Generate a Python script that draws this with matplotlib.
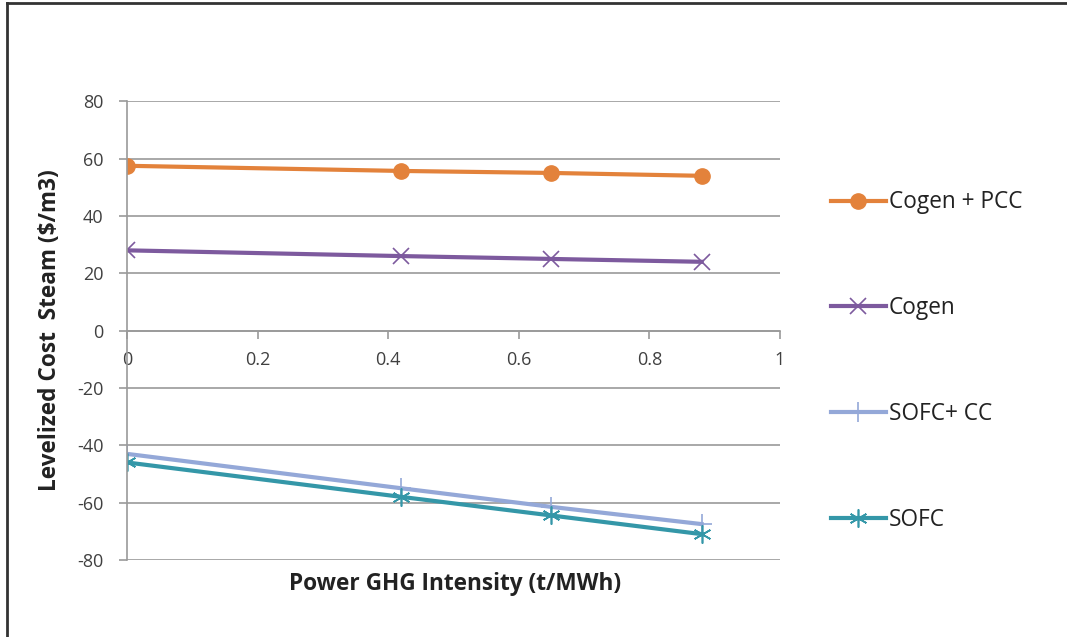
import matplotlib
matplotlib.use('Agg')
import matplotlib.pyplot as plt
from matplotlib.lines import Line2D

plt.rcParams['font.family'] = ['Open Sans', 'DejaVu Sans']
plt.rcParams['axes.unicode_minus'] = False

x = [0, 0.42, 0.65, 0.88]
cogen_pcc = [57.5, 55.7, 55.0, 54.0]
cogen = [28.0, 26.0, 25.0, 24.0]
sofc_cc = [-43.0, -55.0, -61.5, -67.5]
sofc = [-46.0, -58.0, -64.5, -71.0]

labels = ['Cogen + PCC', 'Cogen', 'SOFC+ CC', 'SOFC']
x_ticks = [0, 0.2, 0.4, 0.6, 0.8, 1]
y_ticks = [-80, -60, -40, -20, 0, 20, 40, 60, 80]

grey = '#9a9a9a'
txt = '#404040'

fig = plt.figure(figsize=(10.67, 6.37), dpi=100)
ax = fig.add_axes([0.119, 0.121, 0.612, 0.720])

ax.plot(x, cogen_pcc, color='#E3823B', lw=3, marker='o', ms=11, label=labels[0])
ax.plot(x, cogen, color='#7D5A9E', lw=3, marker='x', ms=12, mew=1.2, label=labels[1])
ax.plot(x, sofc_cc, color='#94A8D8', lw=3, marker='+', ms=14, mew=1.2, label=labels[2])
ax.plot(x, sofc, color='#3497A8', lw=3, marker=(6, 2, 0), ms=13, mew=1.2, label=labels[3])

ax.set_xlim(0, 1)
ax.set_ylim(-80, 80)
ax.set_xticks(x_ticks)
ax.set_xticklabels(['0', '0.2', '0.4', '0.6', '0.8', '1'])
ax.set_yticks(y_ticks)

ax.grid(axis='y', color=grey, lw=1.2)
ax.set_axisbelow(True)
for s in ['top', 'right']:
    ax.spines[s].set_visible(False)
ax.spines['bottom'].set_position(('data', 0))
ax.spines['bottom'].set_color(grey)
ax.spines['left'].set_color(grey)
ax.spines['bottom'].set_linewidth(1.2)
ax.spines['left'].set_linewidth(1.2)
ax.tick_params(axis='both', colors=grey, labelcolor=txt, labelsize=13, length=6, width=1.2)
ax.tick_params(axis='x', pad=9)
ax.tick_params(axis='y', pad=11)

ax.set_xlabel('Power GHG Intensity (t/MWh)', fontsize=16.3, fontweight='bold', color='#222222')
ax.set_ylabel('Levelized Cost  Steam ($/m3)', fontsize=16.3, fontweight='bold', color='#222222')
ax.xaxis.set_label_coords(0.502, -0.026)
ax.yaxis.set_label_coords(-0.100, 0.5)

fig.legend(loc='upper left', bbox_to_anchor=(0.779, 0.701), frameon=False,
           fontsize=16.3, labelspacing=3.62, handlelength=2.4, handletextpad=0.15,
           borderaxespad=0, borderpad=0, labelcolor='#222222')

# outer frame (left and top edges only, as in the screenshot)
fig.add_artist(Line2D([0.0066, 0.0066], [0, 0.995], color='#333333', lw=2, transform=fig.transFigure))
fig.add_artist(Line2D([0.0066, 1], [0.995, 0.995], color='#333333', lw=2, transform=fig.transFigure))

fig.savefig('out.png', dpi=100)
